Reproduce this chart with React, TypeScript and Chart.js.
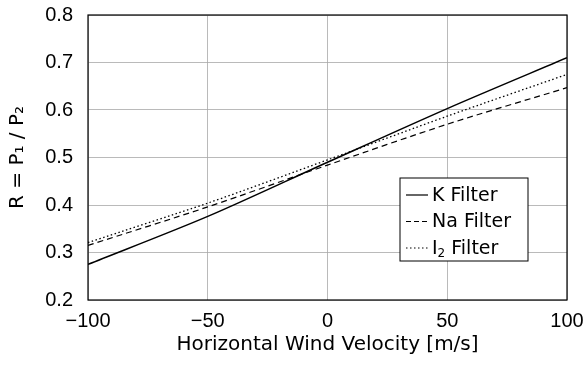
import React, { useEffect, useRef } from "react";
import { Chart, registerables } from "chart.js";

Chart.register(...registerables);

const velocities = [-100, -50, 0, 50, 100];
const kFilter = [0.275, 0.376, 0.49, 0.603, 0.71];
const naFilter = [0.315, 0.396, 0.484, 0.57, 0.647];
const i2Filter = [0.321, 0.404, 0.495, 0.587, 0.675];
const seriesLabels = ["K Filter", "Na Filter", "I|2| Filter"];

const FONT = "'Liberation Sans', Arial, sans-serif";
const WIDE = "'DejaVu Sans', sans-serif";

function drawRich(ctx: CanvasRenderingContext2D, text: string, x: number, y: number, size: number) {
  const parts = text.split("|");
  let cx = x;
  parts.forEach((p, i) => {
    const sub = i % 2 === 1;
    ctx.font = `${sub ? Math.round(size * 0.65) : size}px ${WIDE}`;
    ctx.fillText(p, cx, sub ? y + size * 0.28 : y);
    cx += ctx.measureText(p).width;
  });
}

const framePlugin = {
  id: "frame",
  afterDatasetsDraw(chart: any) {
    const { ctx, chartArea } = chart;
    const { left, top, right, bottom } = chartArea;
    ctx.save();
    ctx.strokeStyle = "#000";
    ctx.lineWidth = 1.2;
    ctx.setLineDash([]);
    ctx.strokeRect(left, top, right - left, bottom - top);

    const bw = 128, bh = 83;
    const bx = right - 39 - bw;
    const by = bottom - 39 - bh;
    ctx.fillStyle = "#fff";
    ctx.fillRect(bx, by, bw, bh);
    ctx.lineWidth = 1;
    ctx.strokeRect(bx, by, bw, bh);
    const dashes = [[], [5, 3], [1.5, 2.5]];
    seriesLabels.forEach((lab, i) => {
      const ry = by + 17 + i * 26.5;
      ctx.beginPath();
      ctx.setLineDash(dashes[i]);
      ctx.lineWidth = 1.2;
      ctx.moveTo(bx + 6, ry);
      ctx.lineTo(bx + 28, ry);
      ctx.stroke();
      ctx.setLineDash([]);
      ctx.fillStyle = "#000";
      ctx.textBaseline = "middle";
      ctx.textAlign = "left";
      drawRich(ctx, lab, bx + 32, ry + 1, 19);
    });
    ctx.restore();
  },
};

export default function App() {
  const ref = useRef<HTMLCanvasElement>(null);
  useEffect(() => {
    if (!ref.current) return;
    const mk = (data: number[], dash: number[], w: number) => ({
      data: velocities.map((v, i) => ({ x: v, y: data[i] })),
      borderColor: "#000",
      borderWidth: w,
      borderDash: dash,
      pointRadius: 0,
      fill: false,
      tension: 0.3,
    });
    const chart = new Chart(ref.current, {
      type: "line",
      data: {
        datasets: [
          { label: seriesLabels[0], ...mk(kFilter, [], 1.5) },
          { label: seriesLabels[1], ...mk(naFilter, [6, 4], 1.2) },
          { label: seriesLabels[2], ...mk(i2Filter, [1.5, 2.5], 1.3) },
        ],
      },
      options: {
        animation: false,
        responsive: false,
        layout: { padding: { top: 15, right: 17, left: 0, bottom: 0 } },
        plugins: { legend: { display: false }, tooltip: { enabled: false } },
        scales: {
          x: {
            type: "linear",
            min: -100,
            max: 100,
            border: { display: false },
            grid: { color: "#a8a8a8", lineWidth: 0.8, drawTicks: false },
            ticks: {
              stepSize: 50,
              padding: 9,
              color: "#000",
              font: { family: FONT, size: 20 },
              callback: (v: any) => String(v).replace("-", "\u2212"),
            },
            title: {
              display: true,
              text: "Horizontal Wind Velocity [m/s]",
              color: "#000",
              font: { family: WIDE, size: 20 },
              padding: { top: 0, bottom: 14 },
            },
            afterFit: (s: any) => {
              s.height = 71;
              s.paddingLeft = 0;
              s.paddingRight = 0;
            },
          },
          y: {
            min: 0.2,
            max: 0.8,
            border: { display: false },
            grid: { color: "#a8a8a8", lineWidth: 0.8, drawTicks: false },
            ticks: {
              stepSize: 0.1,
              padding: 15,
              color: "#000",
              font: { family: FONT, size: 20 },
              callback: (v: any) => Number(v).toFixed(1),
            },
            title: {
              display: true,
              text: "R = P\u2081 / P\u2082",
              color: "#000",
              font: { family: WIDE, size: 20 },
              padding: { top: 6, bottom: 0 },
            },
            afterFit: (s: any) => {
              s.width = 88;
              s.paddingTop = 0;
              s.paddingBottom = 0;
            },
          },
        },
      },
      plugins: [framePlugin],
    });
    return () => chart.destroy();
  }, []);
  return (
    <div style={{ position: "fixed", left: 0, top: 0, width: 584, height: 371, background: "#fff" }}>
      <canvas ref={ref} width={584} height={371} />
    </div>
  );
}
